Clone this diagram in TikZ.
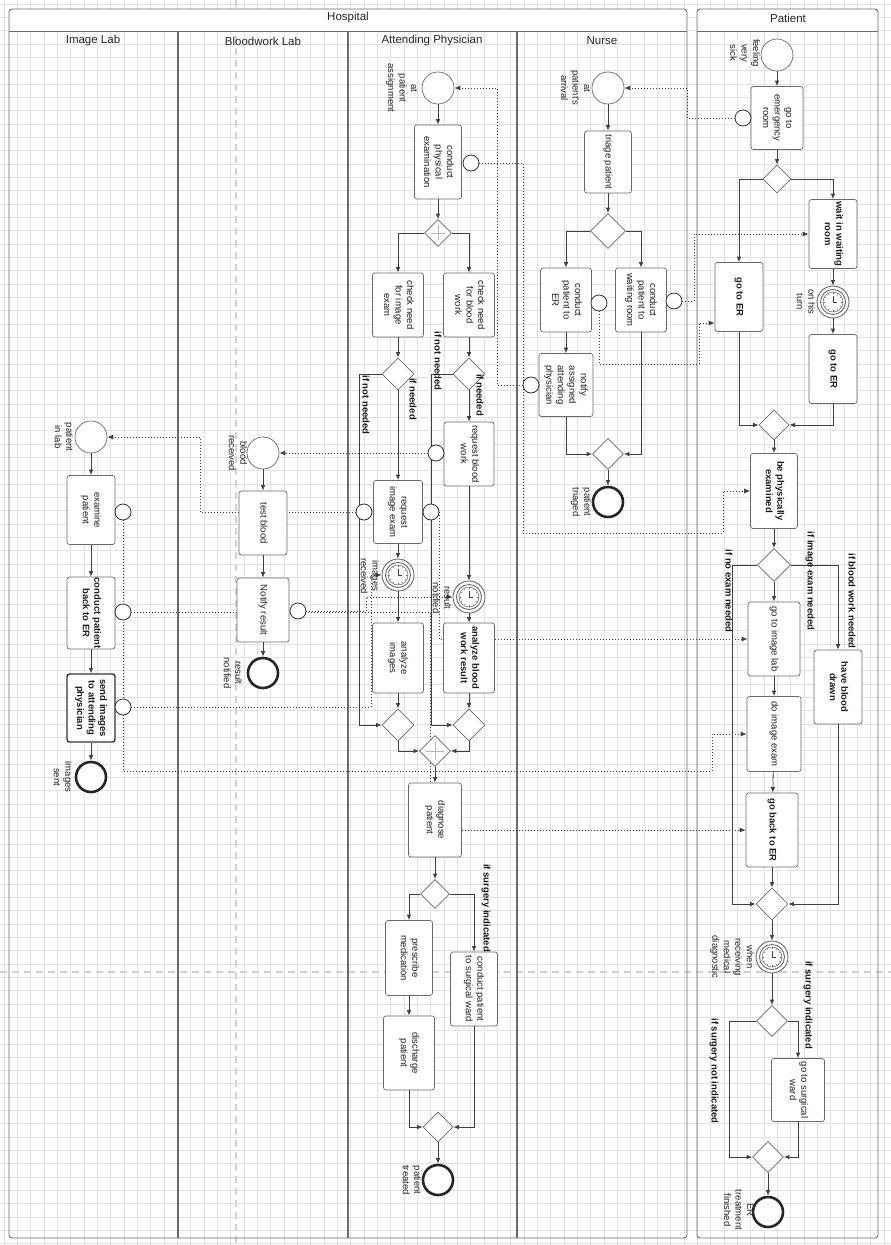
\documentclass[tikz,border=0pt]{standalone}
\usepackage{fontspec}
\setmainfont{Liberation Sans}
\usepackage{graphicx}
\usetikzlibrary{arrows.meta,shapes.geometric}
\definecolor{ln}{HTML}{404040}
\definecolor{bx}{HTML}{6A6A6A}
\definecolor{gridc}{HTML}{E2E2E2}
\newcommand\rt[1]{\rotatebox{-90}{\begin{tabular}{@{}c@{}}#1\end{tabular}}}
\newcommand\tsize{\fontsize{9.5}{11.5}\selectfont}
\pgfdeclarelayer{grid}
\pgfdeclarelayer{bg}
\pgfsetlayers{grid,bg,main}
\tikzset{
  sz/.style 2 args={minimum width=#1pt, minimum height=#2pt},
  task/.style={draw=bx, fill=white, rounded corners=2.5pt, line width=0.7pt,
    minimum width=50pt, minimum height=68pt, inner sep=0pt, font=\tsize, text=black!88},
  btask/.style={task, font=\tsize\bfseries},
  start/.style={circle, draw=bx, fill=white, line width=0.7pt, minimum size=32pt, inner sep=0pt},
  finish/.style={circle, draw=black!85, fill=white, line width=2.6pt, minimum size=30pt, inner sep=0pt},
  bnd/.style={circle, draw=black!80, fill=white, line width=0.8pt, minimum size=16pt, inner sep=0pt},
  gw/.style={diamond, draw=bx, fill=white, line width=0.7pt, minimum width=32pt,
    minimum height=32pt, inner sep=0pt},
  pgw/.style={gw, path picture={
    \draw[gray!55, line width=0.8pt]
      ([yshift=-6pt]path picture bounding box.north) -- ([yshift=6pt]path picture bounding box.south)
      ([xshift=6pt]path picture bounding box.west) -- ([xshift=-6pt]path picture bounding box.east);}},
  timer/.style={circle, draw=bx, fill=white, line width=0.9pt, minimum size=32pt, inner sep=0pt,
    path picture={
      \draw[bx, line width=0.9pt] (path picture bounding box.center) circle[radius=12.5pt];
      \draw[bx, line width=0.5pt] (path picture bounding box.center) circle[radius=10pt];
      \foreach \a in {0,30,...,330}
        \draw[bx, line width=0.4pt] ([shift={(\a:7.8pt)}]path picture bounding box.center)
          -- ([shift={(\a:10pt)}]path picture bounding box.center);
      \draw[ln, line width=0.6pt] ([yshift=6pt]path picture bounding box.center)
        -- (path picture bounding box.center) -- ([xshift=4pt]path picture bounding box.center);}},
  lbl/.style={font=\tsize, text=black!85, inner sep=0pt},
  cond/.style={font=\tsize\bfseries, text=black!90, inner sep=0pt},
  head/.style={font=\fontsize{11.5}{13}\selectfont, text=black!85, inner sep=0pt},
  flow/.style={draw=ln, line width=0.8pt, -{Latex[length=5.5pt,width=4.5pt]}},
  msg/.style={draw=ln, line width=0.8pt, dash pattern=on 1pt off 2pt, -{Latex[length=6pt,width=5pt]}},
  gridline/.style={draw=gridc, line width=0.5pt},
  pagebreak/.style={draw=gray!35, line width=1.6pt, dash pattern=on 7pt off 5pt},
  pool/.style={draw=bx, line width=0.9pt},
}

\begin{document}
\begin{tikzpicture}[x=1pt,y=-1pt]
  \useasboundingbox (0,0) rectangle (891,1245);
  % Grid, pools and lanes
  \begin{pgfonlayer}{grid}
    \fill[white] (0,0) rectangle (891,1245);
    \foreach \i in {0,...,67} \draw[gridline] (4+\i*13.33,0) -- (4+\i*13.33,1245);
    \foreach \j in {0,...,93} \draw[gridline] (0,4+\j*13.33) -- (891,4+\j*13.33);
    \draw[pagebreak] (236,0) -- (236,1245);
    \draw[pagebreak] (0,972) -- (891,972);
    \fill[white] (9,9) rectangle (687,31);
    \fill[white] (697,9) rectangle (878,31);
    \draw[pool, rounded corners=3pt] (9,9) rectangle (687,1238);
    \draw[pool, rounded corners=3pt] (697,9) rectangle (878,1238);
    \draw[pool] (9,31) -- (687,31);
    \draw[pool] (697,31) -- (878,31);
    \foreach \x in {178,348,517} \draw[pool, line width=1.1pt] (\x,31) -- (\x,1238);
  \end{pgfonlayer}
  \node[head] (hospital) at (348,18) {Hospital};
  \node[head] (patient) at (788,18) {Patient};
  \node[head] (imglab) at (93,41) {Image Lab};
  \node[head] (bloodlab) at (263,41) {Bloodwork Lab};
  \node[head] (physician) at (432,41) {Attending Physician};
  \node[head] (nurse) at (602,41) {Nurse};

  % Attending Physician
  \node[start] (physStart) at (438,88) {};
  \node[task, sz={47}{74}] (physExam) at (438,162) {\rt{conduct\\physical\\examination}};
  \node[pgw, sz={27}{27}] (pSplit) at (438,233) {};
  \node[task, sz={51}{64}] (chkImg) at (398,305) {\rt{check need\\for image\\exam}};
  \node[task, sz={51}{64}] (chkBlood) at (469,305) {\rt{check need\\for blood\\work}};
  \node[gw] (gImg) at (398,374) {};
  \node[gw] (gBlood) at (469,374) {};
  \node[task, sz={50}{64}] (reqBlood) at (469,454) {\rt{request blood\\work}};
  \node[task, sz={49}{63}] (reqImg) at (398,512) {\rt{request\\image exam}};
  \node[timer] (imgRecv) at (398,575) {};
  \node[timer] (resRecv) at (469,597) {};
  \node[task, sz={51}{70}] (anaImg) at (398,658) {\rt{analyze\\images}};
  \node[btask, sz={51}{70}] (anaBlood) at (469,658) {\rt{analyze blood\\work result}};
  \node[gw] (mImg) at (398,725) {};
  \node[gw] (mBlood) at (469,725) {};
  \node[pgw, sz={31}{31}] (pJoin) at (435,751) {};
  \node[task, sz={53}{74}] (diagnose) at (435,820) {\rt{diagnose\\patient}};
  \node[gw, sz={29}{29}] (gSurg) at (435,894) {};
  \node[task, sz={47}{75}] (prescribe) at (409,958) {\rt{prescribe\\medication}};
  \node[task, sz={47}{74}] (surgWard) at (474,989) {\rt{conduct patient\\to surgical ward}};
  \node[task, sz={51}{74}] (discharge) at (409,1053) {\rt{discharge\\patient}};
  \node[gw, sz={30}{30}] (mSurg) at (438,1127) {};
  \node[finish] (treated) at (438,1180) {};

  \draw[flow] (physStart) -- (physExam);
  \draw[flow] (physExam) -- (pSplit);
  \draw[flow] (pSplit.west) -| (chkImg.north);
  \draw[flow] (pSplit.east) -| (chkBlood.north);
  \draw[flow] (chkImg) -- (gImg);
  \draw[flow] (chkBlood) -- (gBlood);
  \draw[flow] (gImg) -- (reqImg);
  \draw[flow] (gBlood) -- (reqBlood);
  \draw[flow] (gImg.west) -- ++(-22,0) |- (mImg.west);
  \draw[flow] (gBlood.west) -- ++(-21,0) |- (mBlood.west);
  \draw[flow] (reqImg) -- (imgRecv);
  \draw[flow] (imgRecv) -- (anaImg);
  \draw[flow] (reqBlood) -- (resRecv);
  \draw[flow] (resRecv) -- (anaBlood);
  \draw[flow] (anaImg) -- (mImg);
  \draw[flow] (anaBlood) -- (mBlood);
  \draw[flow] (mImg.south) |- (pJoin.west);
  \draw[flow] (mBlood.south) |- (pJoin.east);
  \draw[flow] (pJoin) -- (diagnose);
  \draw[flow] (diagnose) -- (gSurg);
  \draw[flow] (gSurg.west) -| (prescribe.north);
  \draw[flow] (gSurg.east) -| (surgWard.north);
  \draw[flow] (prescribe) -- (discharge);
  \draw[flow] (discharge.south) |- (mSurg.west);
  \draw[flow] (surgWard.south) |- (mSurg.east);
  \draw[flow] (mSurg) -- (treated);

  \node[lbl] (lPhysStart) at (402,88) {\rt{at\\patient\\assignment}};
  \node[lbl] (lImgRecv) at (369,576) {\rt{images\\received}};
  \node[lbl] (lResRecv) at (441,598) {\rt{result\\notified}};
  \node[lbl] (lTreated) at (411,1180) {\rt{patient\\treated}};
  \node[cond] (cImgNo) at (365,405) {\rt{if not needed}};
  \node[cond] (cImgYes) at (412,399) {\rt{if needed}};
  \node[cond] (cBloodNo) at (437,361) {\rt{if not needed}};
  \node[cond] (cBloodYes) at (479,395) {\rt{if needed}};
  \node[cond] (cSurg) at (486,908) {\rt{if surgery indicated}};

  % Nurse
  \node[start] (nurseStart) at (608,88) {};
  \node[task, sz={47}{62}] (triage) at (608,162) {\rt{triage patient}};
  \node[gw, sz={35}{35}] (nSplit) at (608,231) {};
  \node[task, sz={51}{64}] (condER) at (566,300) {\rt{conduct\\patient to\\ER}};
  \node[task, sz={51}{64}] (condWR) at (641,300) {\rt{conduct\\patient to\\waiting room}};
  \node[task, sz={54}{63}] (notifyPhys) at (566,385) {\rt{notify\\assigned\\attending\\physician}};
  \node[gw, sz={31}{31}] (nMerge) at (608,454) {};
  \node[finish] (triaged) at (608,502) {};

  \draw[flow] (nurseStart) -- (triage);
  \draw[flow] (triage) -- (nSplit);
  \draw[flow] (nSplit.west) -| (condER.north);
  \draw[flow] (nSplit.east) -| (condWR.north);
  \draw[flow] (condER) -- (notifyPhys);
  \draw[flow] (notifyPhys.south) |- (nMerge.west);
  \draw[flow] (condWR.south) |- (nMerge.east);
  \draw[flow] (nMerge) -- (triaged);

  \node[lbl] (lNurseStart) at (575,88) {\rt{at\\patient's\\arrival}};
  \node[lbl] (lTriaged) at (581,502) {\rt{patient\\triaged}};

  % Patient
  \node[start] (patStart) at (777,55) {};
  \node[task, sz={52}{63}] (goEmerg) at (777,118) {\rt{go to\\emergency\\room}};
  \node[gw, sz={28}{28}] (pg1) at (777,179) {};
  \node[btask, sz={48}{69}] (goER1) at (739,297) {\rt{go to ER}};
  \node[btask, sz={48}{69}] (waitRoom) at (833,234) {\rt{wait in waiting\\room}};
  \node[timer] (turn) at (833,302) {};
  \node[btask, sz={48}{69}] (goER2) at (833,369) {\rt{go to ER}};
  \node[gw, sz={30}{30}] (pm1) at (774,425) {};
  \node[btask, sz={47}{75}] (beExam) at (774,491) {\rt{be physically\\examined}};
  \node[gw, sz={33}{33}] (pg2) at (774,565) {};
  \node[task, sz={52}{74}] (goImgLab) at (774,639) {\rt{go to image lab}};
  \node[task, sz={54}{75}] (doImgExam) at (774,734) {\rt{do image exam}};
  \node[btask, sz={52}{74}] (goBackER) at (772,830) {\rt{go back to ER}};
  \node[btask, sz={48}{74}] (haveBlood) at (838,687) {\rt{have blood\\drawn}};
  \node[gw] (pm2) at (772,904) {};
  \node[timer] (diagRecv) at (772,957) {};
  \node[gw, sz={31}{31}] (pg3) at (772,1021) {};
  \node[task, sz={53}{63}] (goSurg) at (798,1090) {\rt{go to surgical\\ward}};
  \node[gw, sz={31}{31}] (pm3) at (768,1157) {};
  \node[finish] (erDone) at (768,1212) {};

  \draw[flow] (patStart) -- (goEmerg);
  \draw[flow] (goEmerg) -- (pg1);
  \draw[flow] (pg1.west) -| (goER1.north);
  \draw[flow] (pg1.east) -| (waitRoom.north);
  \draw[flow] (waitRoom) -- (turn);
  \draw[flow] (turn) -- (goER2);
  \draw[flow] (goER1.south) |- (pm1.west);
  \draw[flow] (goER2.south) |- (pm1.east);
  \draw[flow] (pm1) -- (beExam);
  \draw[flow] (beExam) -- (pg2);
  \draw[flow] (pg2) -- (goImgLab);
  \draw[flow] (goImgLab) -- (doImgExam);
  \draw[flow] (doImgExam) -- (goBackER);
  \draw[flow] (goBackER) -- (pm2);
  \draw[flow] (pg2.east) -| (haveBlood.north);
  \draw[flow] (haveBlood.south) |- (pm2.east);
  \draw[flow] (pg2.west) -- ++(-25,0) |- (pm2.west);
  \draw[flow] (pm2) -- (diagRecv);
  \draw[flow] (diagRecv) -- (pg3);
  \draw[flow] (pg3.east) -| (goSurg.north);
  \draw[flow] (pg3.west) -- ++(-27,0) |- (pm3.west);
  \draw[flow] (goSurg.south) |- (pm3.east);
  \draw[flow] (pm3) -- (erDone);

  \node[lbl] (lPatStart) at (744,53) {\rt{feeling\\very\\sick}};
  \node[lbl] (lTurn) at (805,302) {\rt{on his\\turn}};
  \node[lbl] (lDiagRecv) at (732,957) {\rt{when\\receiving\\medical\\diagnostic}};
  \node[lbl] (lErDone) at (738,1210) {\rt{ER\\treatment\\finished}};
  \node[cond] (cNoExam) at (728,591) {\rt{if no exam needed}};
  \node[cond] (cImgExam) at (810,581) {\rt{if image exam needed}};
  \node[cond] (cBloodWork) at (851,601) {\rt{if blood work needed}};
  \node[cond] (cSurgYes) at (808,1005) {\rt{if surgery indicated}};
  \node[cond] (cSurgNo) at (714,1071) {\rt{if surgery not indicated}};

  % Image Lab
  \node[start] (labStart) at (91,437) {};
  \node[task, sz={48}{69}] (examine) at (91,510) {\rt{examine\\patient}};
  \node[btask, sz={48}{72}] (backER) at (91,613) {\rt{conduct patient\\back to ER}};
  \node[btask, sz={48}{68}, draw=black!80, line width=1.4pt] (sendImg) at (91,708) {\rt{send images\\to attending\\physician}};
  \node[finish] (imgSent) at (91,777) {};

  \draw[flow] (labStart) -- (examine);
  \draw[flow] (examine) -- (backER);
  \draw[flow] (backER) -- (sendImg);
  \draw[flow] (sendImg) -- (imgSent);

  \node[lbl] (lLabStart) at (63,437) {\rt{patient\\in lab}};
  \node[lbl] (lImgSent) at (62,777) {\rt{images\\sent}};

  % Bloodwork Lab
  \node[start] (bloodStart) at (263,453) {};
  \node[task, sz={48}{64}] (testBlood) at (263,523) {\rt{test blood}};
  \node[task, sz={52}{64}] (notifyRes) at (263,610) {\rt{Notify result}};
  \node[finish] (resNotified) at (263,673) {};

  \draw[flow] (bloodStart) -- (testBlood);
  \draw[flow] (testBlood) -- (notifyRes);
  \draw[flow] (notifyRes) -- (resNotified);

  \node[lbl] (lBloodStart) at (237,453) {\rt{blood\\received}};
  \node[lbl] (lResNotified) at (232,673) {\rt{result\\notified}};

  % Boundary events
  \node[bnd] (bPhys) at (471,163) {};
  \node[bnd] (bReqBlood) at (436,453) {};
  \node[bnd] (bReqImgL) at (364,512) {};
  \node[bnd] (bReqImgR) at (431,512) {};
  \node[bnd] (bCondER) at (599,303) {};
  \node[bnd] (bCondWR) at (674,301) {};
  \node[bnd] (bNotify) at (531,385) {};
  \node[bnd] (bGoEmerg) at (743,118) {};
  \node[bnd] (bExamine) at (123,512) {};
  \node[bnd] (bBackER) at (123,612) {};
  \node[bnd] (bSendImg) at (123,707) {};
  \node[bnd] (bNotifyRes) at (298,611) {};

  % Message flows
  \begin{pgfonlayer}{bg}
    \draw[msg] (bGoEmerg.west) -- (687,118) |- (nurseStart.east);
    \draw[msg] (bNotify.west) -- (497,385) |- (physStart.east);
    \draw[msg] (bPhys.east) -- (523,163) -- (523,533) -- (723,533) |- (beExam.west);
    \draw[msg] (bCondER.south) |- (699,364) |- ([yshift=-26pt]goER1.west);
    \draw[msg] (bCondWR.east) -- (694,301) |- (waitRoom.west);
    \draw[msg] (bReqBlood.west) -- (bloodStart.east);
    \draw[msg] (bReqImgL.west) -- (200,512) |- (labStart.east);
    \draw[msg] (bReqImgR.east) |- (goImgLab.west);
    \draw[msg] (bExamine.south) -- (123,771) -| (712,734) -- (doImgExam.west);
    \draw[msg] (bBackER.east) -- (430,612) |- (goBackER.west);
    \draw[msg] (bSendImg.east) -- (371,707) |- (imgRecv.west);
    \draw[msg] (bNotifyRes.east) -- (366,611) |- (resRecv.west);
  \end{pgfonlayer}
\end{tikzpicture}
\end{document}
